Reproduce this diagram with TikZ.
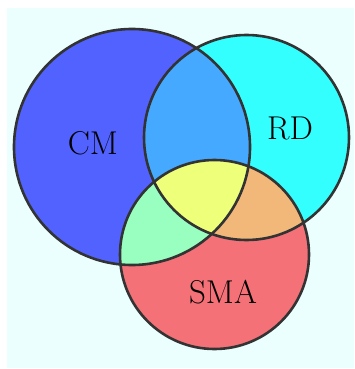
\documentclass[tikz,border=0pt]{standalone}
\begin{document}
\begin{tikzpicture}[x=1pt,y=-1pt,
  ring/.style={draw=black!80,line width=2.6pt},
  setlabel/.style={font=\fontsize{33}{38}\selectfont,inner sep=0pt}]
\definecolor{bgc}{RGB}{235,255,255}
\definecolor{cmc}{RGB}{82,98,255}
\definecolor{rdc}{RGB}{51,255,255}
\definecolor{smac}{RGB}{245,113,120}
\definecolor{cmrd}{RGB}{69,170,255}
\definecolor{cmsma}{RGB}{153,255,192}
\definecolor{rdsma}{RGB}{242,184,122}
\definecolor{allc}{RGB}{238,255,122}
\useasboundingbox (0,0) rectangle (355,369);
\fill[bgc] (7,8) rectangle (354,368);
% set centres and radii
\coordinate (cm) at (132,147);
\coordinate (rd) at (246.5,137.5);
\coordinate (sma) at (214.5,254.5);
\def\rcm{118}\def\rrd{102.5}\def\rsma{94.5}
% single sets
\fill[cmc] (cm) circle (\rcm);
\fill[rdc] (rd) circle (\rrd);
\fill[smac] (sma) circle (\rsma);
% pairwise overlaps
\begin{scope}
  \clip (cm) circle (\rcm);
  \fill[cmrd] (rd) circle (\rrd);
  \fill[cmsma] (sma) circle (\rsma);
\end{scope}
\begin{scope}
  \clip (rd) circle (\rrd);
  \fill[rdsma] (sma) circle (\rsma);
  \clip (cm) circle (\rcm);
  \fill[allc] (sma) circle (\rsma);
\end{scope}
% outlines
\draw[ring] (cm) circle (\rcm);
\draw[ring] (rd) circle (\rrd);
\draw[ring] (sma) circle (\rsma);
% labels
\node[setlabel] (lcm) at (93,143) {CM};
\node[setlabel] (lrd) at (290,128) {RD};
\node[setlabel] (lsma) at (223,292) {SMA};
\end{tikzpicture}
\end{document}
